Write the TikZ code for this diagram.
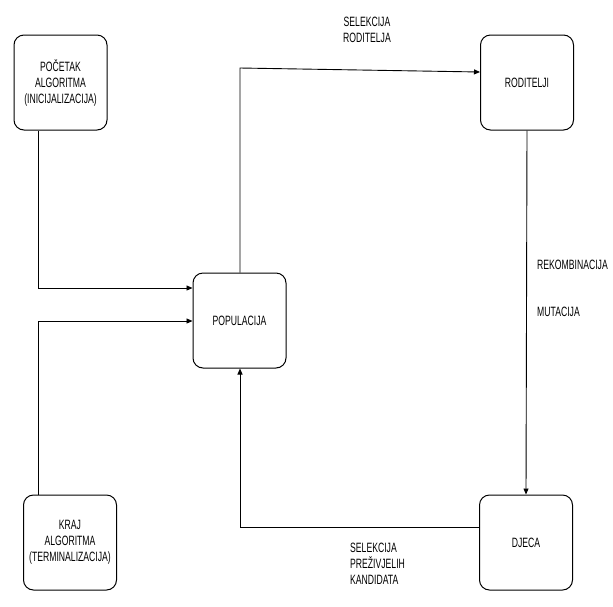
\documentclass[tikz,border=0pt]{standalone}
\usepackage{fontspec}
\setmainfont[FakeStretch=0.64]{Liberation Sans}
\usetikzlibrary{arrows.meta}
\begin{document}
\begin{tikzpicture}[x=1pt,y=-1pt,
  box/.style={draw, rounded corners=10pt, line width=1pt, minimum width=93pt, minimum height=95pt, align=center, inner sep=0pt, font=\fontsize{13.5}{16}\selectfont},
  lbl/.style={align=left, font=\fontsize{13.5}{16}\selectfont, inner sep=0pt},
  conn/.style={line width=0.9pt},
  arr/.style={conn, -{Triangle[length=6pt,width=5pt]}}]
\useasboundingbox (0,0) rectangle (613,606);
\node[box] (poc) at (60.5,82.5) {POČETAK\\ALGORITMA\\(INICIJALIZACIJA)};
\node[box] (pop) at (239.5,320.5) {POPULACIJA};
\node[box] (kraj) at (70,542.5) {KRAJ\\ALGORITMA\\(TERMINALIZACIJA)};
\node[box] (rod) at (527,82.5) {RODITELJI};
\node[box] (dje) at (526,542.5) {DJECA};
\coordinate (c1) at (38,288);
\coordinate (c2) at (38,321);
\coordinate (c3) at (240,68);
\coordinate (c4) at (240,527);
\draw[arr] (poc.south -| c1) -- (c1) -- (c1 -| pop.west);
\draw[arr] (kraj.north -| c2) -- (c2) -- (c2 -| pop.west);
\draw[arr] (pop.north -| c3) -- (c3) -- (rod.west |- 0,72);
\draw[arr] (rod.south) -- (dje.north);
\draw[arr] (dje.west |- c4) -- (c4) -- (pop.south -| c4);
\node[lbl, align=center] (l1) at (367,30) {SELEKCIJA\\RODITELJA};
\node[lbl, anchor=west] (l2) at (537,265) {REKOMBINACIJA};
\node[lbl, anchor=west] (l3) at (537,312) {MUTACIJA};
\node[lbl, anchor=north west] (l4) at (350,543) {SELEKCIJA\\PREŽIVJELIH\\KANDIDATA};
\end{tikzpicture}
\end{document}
